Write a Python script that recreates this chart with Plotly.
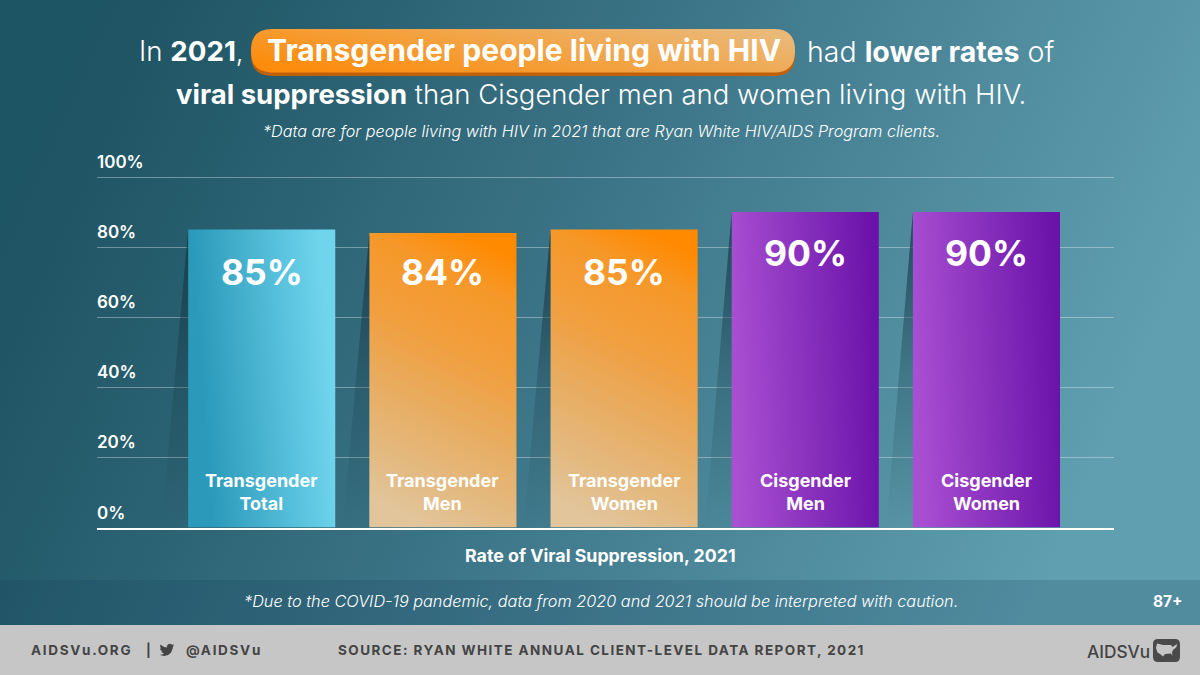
import plotly.graph_objects as go

W, H = 1200, 675
categories = ["Transgender<br>Total", "Transgender<br>Men", "Transgender<br>Women", "Cisgender<br>Men", "Cisgender<br>Women"]
values = [85, 84, 85, 90, 90]
value_labels = ["85%", "84%", "85%", "90%", "90%"]
bar_colors = ["#4cb6d4", "#f0a850", "#f0a850", "#8a30bc", "#8a30bc"]
bar_gradients = ["gBlue", "gOrange", "gOrange", "gPurple", "gPurple"]
y_ticks = [0, 20, 40, 60, 80, 100]
y_tick_labels = ["0%", "20%", "40%", "60%", "80%", "100%"]
FONT = "Inter"
SLANT = 0.148
BAR_WIDTH = 0.812
LABEL_SHIFTS = [-43, -39.5, -43, -41, -41]
Y_MAX = 110


def px(x):
    return x / W


def py(y):
    return 1 - y / H


def poly(points):
    return "M" + " L".join(f"{px(x):.5f},{py(y):.5f}" for x, y in points) + " Z"


def rrect(x0, y0, x1, y1, r):
    seq = [("M", x0 + r, y0), ("L", x1 - r, y0), ("Q", x1, y0, x1, y0 + r), ("L", x1, y1 - r),
           ("Q", x1, y1, x1 - r, y1), ("L", x0 + r, y1), ("Q", x0, y1, x0, y1 - r), ("L", x0, y0 + r),
           ("Q", x0, y0, x0 + r, y0)]
    out = []
    for s in seq:
        c = s[1:]
        out.append(s[0] + " ".join(f"{px(c[i]):.5f},{py(c[i + 1]):.5f}" for i in range(0, len(c), 2)))
    return " ".join(out) + " Z"


def rect_shape(x0, y0, x1, y1, color):
    return dict(type="rect", xref="paper", yref="paper", x0=px(x0), x1=px(x1), y0=py(y1), y1=py(y0),
                fillcolor=color, line_width=0, layer="below")


def path_shape(path, color):
    return dict(type="path", xref="paper", yref="paper", path=path, fillcolor=color, line_width=0, layer="below")


bird = [(24, 4.6), (21.1, 5.35), (23.3, 2.6), (20.2, 3.8), (18.5, 2.5), (16.4, 2.0), (13.5, 3.1), (11.8, 6.1), (12, 8.1),
        (7.7, 7.3), (4.1, 5.4), (1.6, 3.2), (1, 5.6), (1.5, 7.9), (3.2, 9.7), (0.9, 9.1), (1.5, 11.9), (4.9, 14.3),
        (2.7, 14.4), (4, 16.2), (7.3, 17.4), (4.5, 19.2), (1.2, 19.7), (0, 19.6), (3.5, 21), (7.6, 21.6), (14, 20.2),
        (18.7, 16), (21.5, 9), (21.5, 7)]
bird_px = [(159.5 + x * 0.62, 642.5 + y * 0.62) for x, y in bird]
usa = [(1157, 643.5), (1163, 645), (1171, 645), (1172.5, 647), (1177, 644), (1176.5, 647), (1173, 650), (1172, 652.5), (1172.5, 656),
       (1171, 653.5), (1165, 654), (1163, 656.5), (1160, 654), (1157.5, 652.5), (1156, 648)]

shapes = [
    rect_shape(0, 0, W, H, "#3d7686"),
    rect_shape(0, 580, W, 625, "rgba(20,60,90,0.2)"),
    rect_shape(0, 625, W, H, "#c6c6c6"),
    path_shape(rrect(251, 33, 795, 76, 21), "#c0600a"),
    path_shape(rrect(251, 29, 795, 72.5, 21), "#f4a445"),
    path_shape(poly(bird_px), "#444444"),
    path_shape(rrect(1153, 639, 1180, 662, 5), "#4a4a4a"),
    path_shape(poly(usa), "#c6c6c6"),
]

fig = go.Figure()

# slanted shadow behind each bar
for i, v in enumerate(values):
    left = i - BAR_WIDTH / 2
    fig.add_trace(go.Scatter(
        x=[left, left - SLANT, left], y=[v, 0, 0], mode="lines", line_width=0, fill="toself",
        fillgradient=dict(type="vertical", colorscale=[[0, "rgba(20,55,68,0)"], [0.5, "rgba(20,55,68,0.28)"], [1, "rgba(20,55,68,0.78)"]]),
        hoverinfo="skip", showlegend=False))

fig.add_trace(go.Bar(x=list(range(len(values))), y=values, width=BAR_WIDTH, marker=dict(color=bar_colors, line_width=0),
                     showlegend=False, hoverinfo="skip"))


def note(text, x, y, size, color="#ffffff", xanchor="center", weight=None, italic=False):
    f = dict(family=FONT, size=size, color=color)
    if weight:
        f["weight"] = weight
    if italic:
        f["style"] = "italic"
    return dict(text=text, xref="paper", yref="paper", x=px(x), y=py(y), xanchor=xanchor, yanchor="middle",
                align=xanchor if xanchor != "center" else "center", showarrow=False, font=f, borderpad=0)


ann = [
    note("In <b>2021</b>,", 245, 51, 27.7, xanchor="right", weight=300),
    note("<b>Transgender people living with HIV</b>", 524, 50, 30.1),
    note("had <b>lower rates</b> of", 806, 51, 28.5, xanchor="left", weight=300),
    note("<b>viral suppression</b> than Cisgender men and women living with HIV.", 600.5, 94, 27.5, weight=300),
    note("*Data are for people living with HIV in 2021 that are Ryan White HIV/AIDS Program clients.", 601, 131, 16.2, weight=300, italic=True),
    note("<b>Rate of Viral Suppression, 2021</b>", 600, 555, 17.8),
    note("*Due to the COVID-19 pandemic, data from 2020 and 2021 should be interpreted with caution.", 601, 601, 16.3, weight=300, italic=True),
    note("<b>87+</b>", 1168, 601, 15.5),
    note("<b>AIDSVu.ORG</b>", 30, 650, 13.5, color="#444444", xanchor="left"),
    note("<b>|</b>", 148, 650, 13, color="#444444"),
    note("<b>@AIDSVu</b>", 185, 650, 13.5, color="#444444", xanchor="left"),
    note("<b>SOURCE: RYAN WHITE ANNUAL CLIENT-LEVEL DATA REPORT, 2021</b>", 337, 650, 13.5, color="#444444", xanchor="left"),
    note("AIDSVu", 1086, 651, 17.3, color="#444444", xanchor="left", weight=500),
]
for i, v in enumerate(values):
    ann.append(dict(text=f"<b>{value_labels[i]}</b>", x=i, y=v, xref="x", yref="y", yanchor="middle", yshift=LABEL_SHIFTS[i], showarrow=False,
                    font=dict(family=FONT, size=35.5, color="#ffffff")))
    ann.append(dict(text=f"<b>{categories[i]}</b>", x=i, y=0, xref="x", yref="y", yanchor="middle", yshift=36, showarrow=False,
                    font=dict(family=FONT, size=18, color="#ffffff")))

fig.update_layout(
    width=W, height=H, autosize=False, margin=dict(l=0, r=0, t=0, b=0, pad=0),
    paper_bgcolor="#3d7686", plot_bgcolor="rgba(0,0,0,0)", showlegend=False,
    shapes=shapes, annotations=ann,
    xaxis=dict(domain=[97 / W, 1114 / W], range=[-0.909, 4.704], showgrid=False, zeroline=False, showticklabels=False,
               showline=True, linecolor="#ffffff", linewidth=2, ticks=""),
    yaxis=dict(domain=[py(527.5), py(527.5 - 3.505 * Y_MAX)], range=[0, Y_MAX], tickmode="array", tickvals=y_ticks, ticktext=y_tick_labels,
               ticklabelposition="inside top", ticklabelshift=-3, ticklabelstandoff=-3, showgrid=True,
               gridcolor="rgba(255,255,255,0.35)", gridwidth=1, zeroline=False,
               showline=False, ticks="", tickfont=dict(family=FONT, size=17, color="#ffffff", weight=600)),
)

bar_grad_js = str(bar_gradients)
post = """
document.documentElement.style.margin='0';document.body.style.margin='0';document.body.style.overflow='hidden';document.body.style.background='#3d7686';
var svg=document.querySelector('.main-svg');
var NS='http://www.w3.org/2000/svg';
var defs=svg.querySelector('defs')||svg.appendChild(document.createElementNS(NS,'defs'));
function grad(id,x1,y1,x2,y2,stops){
  var g=document.createElementNS(NS,'linearGradient');g.setAttribute('id',id);
  g.setAttribute('x1',x1);g.setAttribute('y1',y1);g.setAttribute('x2',x2);g.setAttribute('y2',y2);
  stops.forEach(function(s){var e=document.createElementNS(NS,'stop');e.setAttribute('offset',s[0]);e.setAttribute('stop-color',s[1]);g.appendChild(e);});
  defs.appendChild(g);
}
grad('gBg',0,0.1,1,0.35,[[0,'#1e5564'],[0.1,'#1f5564'],[0.5,'#3b7386'],[1,'#5f9fb0']]);
grad('gBlue',0.1,0.55,0.95,0.42,[[0,'#2b99ba'],[1,'#6fd5ed']]);
grad('gOrange',0.4,1,0.65,0,[[0,'#e2c59b'],[0.14,'#e3bb84'],[0.376,'#e8ad62'],[0.61,'#f19f3f'],[0.85,'#f69829'],[1,'#ff8a00']]);
grad('gPurple',0,0.55,1,0.45,[[0,'#a950d2'],[1,'#6a12a9']]);
grad('gPill',0,0.75,1,0.25,[[0,'#fc8c0c'],[1,'#eab877']]);
function setFill(el,id){if(el){el.style.setProperty('fill','url(#'+id+')');el.style.setProperty('fill-opacity','1');}}
setFill(document.querySelector('.shapelayer path[data-index="0"]'),'gBg');
setFill(document.querySelector('.shapelayer path[data-index="4"]'),'gPill');
var names=BAR_GRADS;
document.querySelectorAll('.bars .point path').forEach(function(p,i){setFill(p,names[i]);});
document.querySelectorAll('.annotation-text').forEach(function(t){
  var s=t.textContent;
  if(s.indexOf('AIDSVu.ORG')===0||s.indexOf('@AIDSVu')===0){t.style.letterSpacing='1.7px';}
  if(s.indexOf('SOURCE:')===0){t.style.letterSpacing='1.45px';}
});
""".replace("BAR_GRADS", bar_grad_js)

fig.write_html("out.html", config=dict(displayModeBar=False, staticPlot=True), post_script=post)
